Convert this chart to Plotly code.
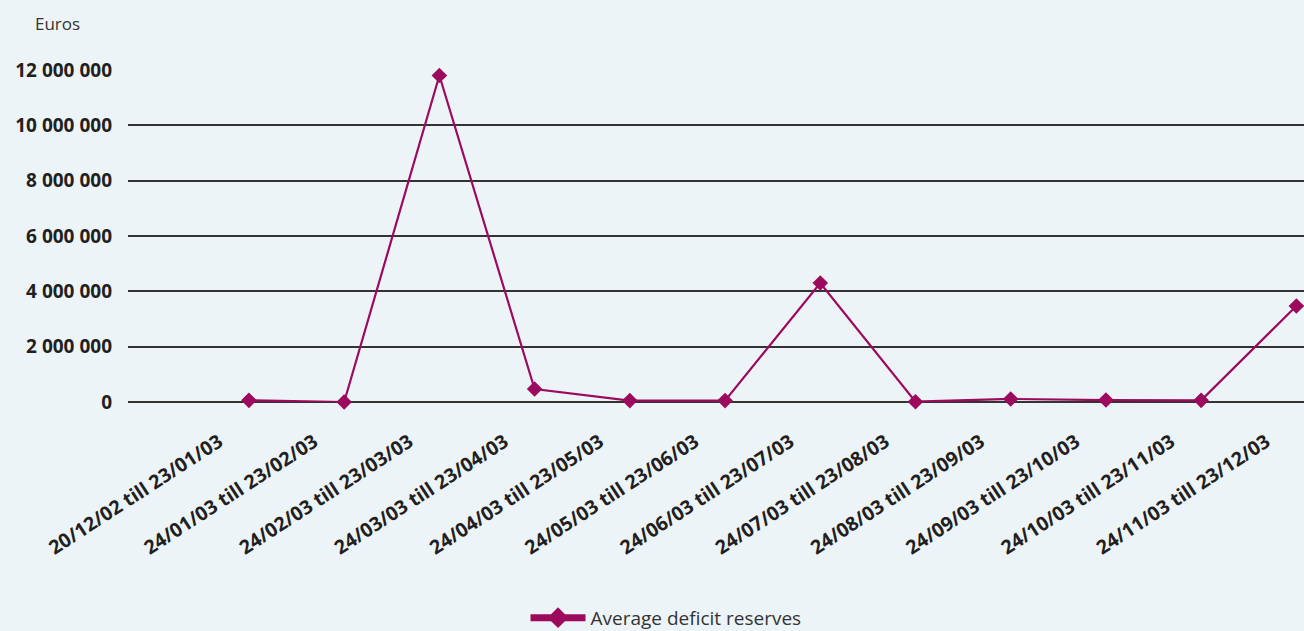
import plotly.graph_objects as go

categories = [
    "20/12/02 till 23/01/03", "24/01/03 till 23/02/03", "24/02/03 till 23/03/03",
    "24/03/03 till 23/04/03", "24/04/03 till 23/05/03", "24/05/03 till 23/06/03",
    "24/06/03 till 23/07/03", "24/07/03 till 23/08/03", "24/08/03 till 23/09/03",
    "24/09/03 till 23/10/03", "24/10/03 till 23/11/03", "24/11/03 till 23/12/03",
]
deficit = [60000, 0, 11800000, 470000, 50000, 50000, 4300000, 10000, 110000, 70000, 60000, 3470000]
y_ticks = [0, 2000000, 4000000, 6000000, 8000000, 10000000, 12000000]
y_tick_text = ["0", "2 000 000", "4 000 000", "6 000 000", "8 000 000", "10 000 000", "12 000 000"]
series_name = "Average deficit reserves"

LINE = "#9C0A5E"
BG = "#EDF4F8"
TXT = "#231F20"

fig = go.Figure()
fig.add_trace(go.Scatter(
    x=list(range(len(categories))), y=deficit, mode="lines+markers",
    name=series_name, showlegend=False,
    line=dict(color=LINE, width=2.2),
    marker=dict(symbol="diamond", size=12, color=LINE),
    cliponaxis=False,
))
# legend entry with a thick bar, like the reference legend
fig.add_trace(go.Scatter(
    x=[None], y=[None], mode="lines+markers", name=series_name,
    line=dict(color=LINE, width=7),
    marker=dict(symbol="diamond", size=17, color=LINE),
))

fig.update_layout(
    width=1304, height=631,
    paper_bgcolor=BG, plot_bgcolor=BG,
    margin=dict(l=128, r=0, t=70, b=229, autoexpand=False),
    font=dict(family="Open Sans, Noto Sans, sans-serif", color=TXT),
    showlegend=True,
    legend=dict(orientation="h", x=0.4575, xanchor="center", y=-0.65, yanchor="middle",
                font=dict(size=19, color="#333333"), bgcolor="rgba(0,0,0,0)",
                itemwidth=55),
    annotations=[dict(text="Euros", xref="paper", yref="paper", x=-0.0808, y=1.1386,
                      xanchor="left", yanchor="middle", showarrow=False,
                      font=dict(size=17, color="#333333"))],
)
fig.update_xaxes(
    range=[-1.27, 11.08], automargin=False,
    tickmode="array", tickvals=list(range(len(categories))), ticktext=categories,
    tickangle=-33, tickfont=dict(size=19.5, family="Open Sans", weight="bold", color=TXT),
    showgrid=False, zeroline=False, showline=False, ticks="",
    ticklabelshift=-30, ticklabelstandoff=24,
)
fig.update_yaxes(
    range=[0, 12000000], automargin=False,
    tickmode="array", tickvals=y_ticks, ticktext=y_tick_text,
    tickfont=dict(size=19, family="Open Sans", weight="bold", color=TXT),
    showgrid=True, gridcolor="#333333", gridwidth=1.8,
    zeroline=True, zerolinecolor="#333333", zerolinewidth=1.8,
    showline=False, ticks="", ticklabelstandoff=15,
)

fig.write_html("out.html", config={"displayModeBar": False},
               post_script="document.body.style.margin='0';")
